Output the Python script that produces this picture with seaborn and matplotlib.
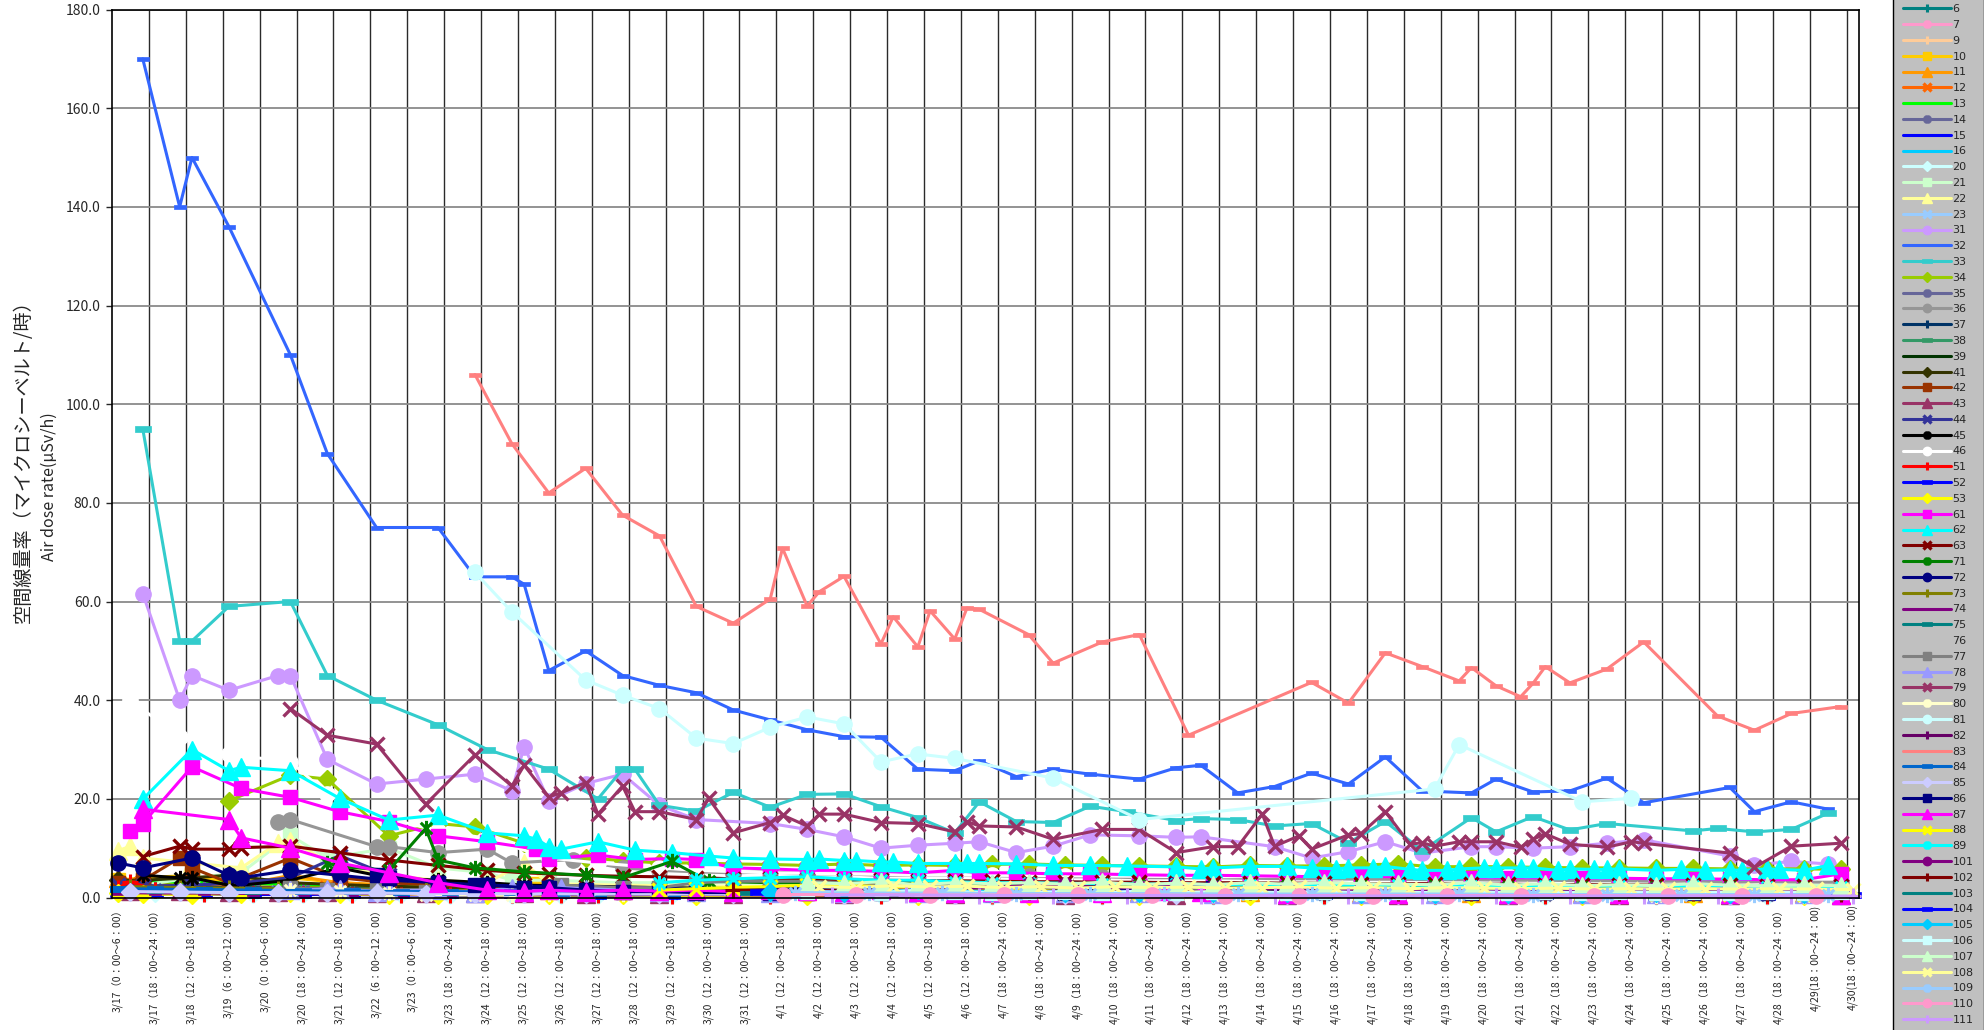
import numpy as np
import matplotlib
matplotlib.use("Agg")
import matplotlib.pyplot as plt
import seaborn as sns
from matplotlib.path import Path
from matplotlib.lines import Line2D

sns.set_theme(style="white")
plt.rcParams['font.family'] = ['Noto Sans CJK JP', 'DejaVu Sans']

# ---------------- data ----------------
n_categories = 142
tick_labels = [
    "3/17（0：00～6：00）", "3/17（18：00～24：00）", "3/18（12：00～18：00）", "3/19（6：00～12：00）",
    "3/20（0：00～6：00）", "3/20（18：00～24：00）", "3/21（12：00～18：00）", "3/22（6：00～12：00）",
    "3/23（0：00～6：00）", "3/23（18：00～24：00）", "3/24（12：00～18：00）", "3/25（12：00～18：00）",
    "3/26（12：00～18：00）", "3/27（12：00～18：00）", "3/28（12：00～18：00）", "3/29（12：00～18：00）",
    "3/30（12：00～18：00）", "3/31（12：00～18：00）", "4/1（12：00～18：00）", "4/2（12：00～18：00）",
    "4/3（12：00～18：00）", "4/4（12：00～18：00）", "4/5（12：00～18：00）", "4/6（12：00～18：00）",
    "4/7（18：00～24：00）", "4/8（18：00～24：00）", "4/9（18：00～24：00）", "4/10（18：00～24：00）",
    "4/11（18：00～24：00）", "4/12（18：00～24：00）", "4/13（18：00～24：00）", "4/14（18：00～24：00）",
    "4/15（18：00～24：00）", "4/16（18：00～24：00）", "4/17（18：00～24：00）", "4/18（18：00～24：00）",
    "4/19（18：00～24：00）", "4/20（18：00～24：00）", "4/21（18：00～24：00）", "4/22（18：00～24：00）",
    "4/23（18：00～24：00）", "4/24（18：00～24：00）", "4/25（18：00～24：00）", "4/26（18：00～24：00）",
    "4/27（18：00～24：00）", "4/28（18：00～24：00）", "4/29(18：00～24：00)", "4/30(18：00～24：00)",
]
y_ticks = [0, 20, 40, 60, 80, 100, 120, 140, 160, 180]

# each series: list of (category index, value)
s6 = [(0,2.5),(2,2.2),(6,2.0),(10,1.8),(14,1.6),(18,1.5),(22,1.3),(26,1.2),(30,1.1),(35,1.0),(41,0.9),(47,0.8),(56,0.7),(65,0.7),(74,0.6),(83,0.6),(92,0.5),(101,0.5),(110,0.5),(119,0.5),(128,0.4),(137,0.4)]
s7 = [(1,1.5),(5,1.4),(9,1.3),(13,1.2),(17,1.2),(21,1.1),(25,1.0),(29,1.0),(33,0.9),(38,0.9),(44,0.8),(50,0.8),(59,0.7),(68,0.7),(77,0.7),(86,0.6),(95,0.6),(104,0.6),(113,0.6),(122,0.5),(131,0.5),(140,0.5)]
s9 = [(0,2.0),(3,1.8),(7,1.6),(11,1.5),(15,1.4),(19,1.3),(23,1.2),(27,1.1),(32,1.0),(36,1.0),(39,0.9),(45,0.9),(53,0.8),(62,0.8),(71,0.7),(80,0.7),(89,0.7),(98,0.6),(107,0.6),(116,0.6),(125,0.6),(134,0.5)]
s10 = [(0,3.5),(2,4.0),(6,4.5),(9,3.0),(14,4.0),(18,3.0),(22,2.5),(26,2.2),(30,2.0),(34,2.8),(38,2.0),(44,1.8),(50,1.7),(56,1.6),(65,1.5),(74,1.4),(83,1.3),(92,1.2),(101,1.2),(110,1.1),(119,1.0),(128,1.0),(137,0.9)]
s11 = [(0,4.0),(2,3.0),(6,2.5),(10,2.5),(14,4.5),(18,3.0),(22,2.5),(26,2.0),(30,1.8),(35,1.6),(41,1.5),(47,1.4),(56,1.3),(65,1.2),(74,1.2),(83,1.1),(92,1.1),(101,1.0),(110,1.0),(119,0.9),(128,0.9),(137,0.9)]
s12 = [(1,3.0),(5,2.5),(9,2.0),(13,2.2),(17,2.0),(21,1.8),(25,1.6),(29,1.5),(33,1.4),(38,1.3),(44,1.2),(50,1.1),(59,1.0),(68,1.0),(77,0.9),(86,0.9),(95,0.8),(104,0.8),(113,0.8),(122,0.7),(131,0.7),(140,0.7)]
s13 = [(0,3.5),(3,3.2),(7,3.0),(11,2.8),(15,2.6),(19,2.4),(23,2.2),(27,2.0),(32,1.9),(36,1.8),(39,1.7),(45,1.6),(53,1.5),(62,1.4),(71,1.3),(80,1.3),(89,1.2),(98,1.2),(107,1.1),(116,1.1),(125,1.0),(134,1.0)]
s14 = [(1,1.8),(5,1.6),(9,1.5),(13,1.4),(17,1.3),(21,1.2),(25,1.1),(29,1.0),(33,1.0),(38,0.9),(44,0.9),(50,0.8),(59,0.8),(68,0.7),(77,0.7),(86,0.7),(95,0.6),(104,0.6),(113,0.6),(122,0.6),(131,0.5),(140,0.5)]
s15 = [(0,1.2),(3,1.1),(7,1.0),(11,1.0),(15,0.9),(19,0.9),(23,0.8),(27,0.8),(32,0.7),(36,0.7),(39,0.7),(45,0.6),(53,0.6),(62,0.6),(71,0.5),(80,0.5),(89,0.5),(98,0.5),(107,0.4),(116,0.4),(125,0.4),(134,0.4)]
s16 = [(1,2.2),(5,2.0),(9,1.8),(13,1.7),(17,1.6),(21,1.5),(25,1.4),(29,1.3),(33,1.2),(38,1.1),(44,1.0),(50,1.0),(59,0.9),(68,0.9),(77,0.8),(86,0.8),(95,0.8),(104,0.7),(113,0.7),(122,0.7),(131,0.7),(140,0.6)]
s20 = [(0,1.0),(3,0.9),(7,0.9),(11,0.8),(15,0.8),(19,0.7),(23,0.7),(27,0.6),(32,0.6),(36,0.6),(39,0.5),(45,0.5),(53,0.5),(62,0.5),(71,0.4),(80,0.4),(89,0.4),(98,0.4),(107,0.4),(116,0.3),(125,0.3),(134,0.3)]
s21 = [(0,2.0),(2,2.5),(6,4.0),(10,5.0),(14,12.6),(17,8.0),(22,10.0),(26,6.0),(30,5.0),(32,3.5),(35,3.5),(41,3.0),(47,3.0),(56,2.8),(65,2.6),(74,2.5),(83,2.4),(92,2.3),(101,2.2),(110,2.1),(119,2.0),(128,2.0),(137,1.9)]
s22 = [(0,9.5),(1,10.4),(2,8.0),(6,7.0),(10,6.0),(13,11.1),(14,11.5),(18,6.0),(22,4.5),(26,3.5),(30,3.0),(33,7.0),(35,2.8),(41,2.5),(47,2.3),(56,2.2),(65,2.1),(74,2.0),(83,2.0),(92,1.9),(101,1.9),(110,1.8),(119,1.8),(128,1.7),(137,1.7)]
s23 = [(1,1.3),(5,1.2),(9,1.1),(13,1.0),(17,1.0),(21,0.9),(25,0.9),(29,0.8),(33,0.8),(38,0.7),(44,0.7),(50,0.6),(59,0.6),(68,0.6),(77,0.5),(86,0.5),(95,0.5),(104,0.5),(113,0.4),(122,0.4),(131,0.4),(140,0.4)]
s31 = [(2,61.6),(5,40),(6,45),(9,42),(13,45),(14,45),(17,28),(21,23),(25,24),(29,25),(32,21.6),(33,30.6),(35,19.6),(38,23.1),(41,25),(44,18.7),(47,15.8),(53,15),(56,13.8),(59,12.3),(62,10),(65,10.6),(68,11),(70,11.3),(73,9.1),(76,10.4),(79,12.7),(83,12.5),(86,12.2),(88,12.3),(94,10.3),(97,8),(100,9.3),(103,11.3),(106,9),(110,10.3),(112,10.3),(115,10),(118,10.3),(121,11),(124,11.7),(131,8.4),(133,6.6),(136,7.3),(139,6.8)]
s32 = [(2,170),(5,140),(6,150),(9,136),(14,110),(17,90),(21,75),(26,75),(29,65),(32,65),(33,63.5),(35,46),(38,50),(41,45),(44,43),(47,41.5),(50,38),(53,36),(56,34),(59,32.6),(62,32.5),(65,26),(68,25.7),(70,27.7),(73,24.5),(76,26),(79,25),(83,24),(86,26.3),(88,26.8),(91,21.2),(94,22.5),(97,25.2),(100,23),(103,28.5),(106,21.6),(110,21.2),(112,24),(115,21.4),(118,21.6),(121,24.2),(124,19.2),(131,22.3),(133,17.4),(136,19.4),(139,17.9)]
s33 = [(2,95),(5,52),(6,52),(9,59),(14,60),(17,45),(21,40),(26,35),(30,30),(35,26),(39,20),(41,26),(42,26),(44,18.7),(47,17.5),(50,21.3),(53,18.3),(56,20.9),(59,21),(62,18.4),(65,16.2),(68,13.1),(70,19.4),(73,15.4),(76,15.2),(79,18.5),(82,17.4),(86,15.6),(88,16),(91,15.8),(94,14.5),(97,15),(100,11.1),(103,15.4),(106,9.5),(110,16.2),(112,13.3),(115,16.4),(118,13.7),(121,15),(128,13.5),(130,14),(133,13.3),(136,13.8),(139,17.1)]
s34 = [(9,19.6),(14,24.8),(17,24),(22,12.5),(26,15),(29,14.3),(33,11),(35,9),(38,8),(41,7.5),(44,7),(47,7),(50,6.8),(53,6.7),(56,6.5),(59,6.8),(62,6.5),(65,6.6),(68,6.5),(71,6.7),(74,6.8),(77,6.6),(80,6.5),(83,6.4),(86,6.3),(89,6.2),(92,6.5),(95,6.4),(98,6.4),(101,6.6),(104,6.8),(107,6.2),(110,6.3),(113,6.2),(116,6.1),(119,6.0),(122,6.0),(125,5.9),(128,5.9),(131,5.8),(134,5.8),(137,5.8),(140,5.7)]
s35 = [(0,2.0),(3,1.8),(7,1.7),(11,1.6),(15,1.5),(19,1.4),(23,1.3),(27,1.2),(32,1.1),(36,1.0),(39,1.0),(45,0.9),(53,0.9),(62,0.8),(71,0.8),(80,0.7),(89,0.7),(98,0.7),(107,0.6),(116,0.6),(125,0.6),(134,0.6)]
s36 = [(13,15.4),(14,15.8),(21,10.3),(22,10.3),(26,9.1),(30,9.8),(32,7),(37,7.7),(41,6),(44,5.5),(47,5.2),(50,5),(53,5.2),(56,4.8),(59,4.8),(62,4.5),(65,4.6),(68,4.5),(71,4.4),(74,4.3),(77,4.2),(80,4.2),(83,4),(86,4),(89,4),(92,3.9),(95,3.8),(98,3.8),(101,3.7),(104,3.7),(107,3.6),(110,3.6),(113,3.5),(116,3.5),(119,3.4),(122,3.4),(125,3.3),(128,3.3),(131,3.2),(134,3.2),(137,3.1),(140,3.1)]
s37 = [(1,2.4),(5,2.2),(9,2.0),(13,1.9),(17,1.8),(21,1.7),(25,1.6),(29,1.5),(33,1.4),(38,1.3),(44,1.2),(50,1.2),(59,1.1),(68,1.0),(77,1.0),(86,0.9),(95,0.9),(104,0.9),(113,0.8),(122,0.8),(131,0.8),(140,0.8)]
s38 = [(0,1.6),(3,1.5),(7,1.4),(11,1.3),(15,1.3),(19,1.2),(23,1.1),(27,1.1),(32,1.0),(36,1.0),(39,0.9),(45,0.9),(53,0.8),(62,0.8),(71,0.8),(80,0.7),(89,0.7),(98,0.7),(107,0.6),(116,0.6),(125,0.6),(134,0.6)]
s39 = [(1,1.1),(5,1.0),(9,1.0),(13,0.9),(17,0.9),(21,0.8),(25,0.8),(29,0.7),(33,0.7),(38,0.7),(44,0.6),(50,0.6),(59,0.6),(68,0.5),(77,0.5),(86,0.5),(95,0.5),(104,0.4),(113,0.4),(122,0.4),(131,0.4),(140,0.4)]
s41 = [(0,3.5),(2,3.5),(6,4.0),(9,4.5),(14,3.0),(18,2.6),(22,2.3),(26,2.0),(30,1.8),(35,1.7),(41,1.6),(47,1.5),(56,1.4),(65,1.3),(74,1.2),(83,1.2),(92,1.1),(101,1.1),(110,1.0),(119,1.0),(128,1.0),(137,0.9)]
s42 = [(0,3.0),(2,3.5),(5,8.0),(6,6.0),(9,3.0),(14,8.0),(18,4.0),(22,3.0),(26,2.5),(30,2.2),(35,2.0),(41,1.8),(47,1.7),(56,1.6),(65,1.5),(74,1.4),(83,1.3),(92,1.3),(101,1.2),(110,1.1),(119,1.1),(128,1.0),(137,1.0)]
s43 = [(1,1.4),(5,1.3),(9,1.2),(13,1.1),(17,1.1),(21,1.0),(25,1.0),(29,0.9),(33,0.9),(38,0.8),(44,0.8),(50,0.7),(59,0.7),(68,0.7),(77,0.6),(86,0.6),(95,0.6),(104,0.5),(113,0.5),(122,0.5),(131,0.5),(140,0.5)]
s44 = [(0,2.5),(2,2.3),(6,2.5),(10,3.0),(14,4.0),(18,8.5),(22,4.5),(26,3.0),(30,2.5),(35,2.2),(41,2.0),(47,1.8),(56,1.7),(65,1.6),(74,1.5),(83,1.4),(92,1.3),(101,1.3),(110,1.2),(119,1.2),(128,1.1),(137,1.1)]
s45 = [(2,4.5),(5,4.0),(6,4.0),(9,2.5),(10,2.5),(14,3.5),(18,6.0),(22,4.0),(26,3.5),(30,3.0),(33,2.5),(38,2.3),(44,2.0),(50,1.8),(56,1.7),(62,1.6),(68,1.5),(74,1.4),(80,1.4),(86,1.3),(92,1.3),(98,1.2),(104,1.2),(110,1.1),(116,1.1),(122,1.0),(128,1.0),(134,1.0),(140,0.9)]
s46 = [(1,40.0),(5,32.5),(9,29.0),(14,27.5),(17,21.0),(22,16.0),(26,13.5),(30,12.0),(35,8.0),(39,7.0),(44,6.0),(47,5.5),(53,5.0),(59,4.8),(65,4.6),(71,4.5),(77,4.4),(83,4.3),(89,4.2),(95,4.3),(101,4.4),(107,4.2),(113,4.3),(119,4.2),(125,4.0),(131,4.4),(137,4.2)]
s51 = [(0,2.0),(1,3.2),(3,1.5),(7,0.8),(11,0.7),(15,0.7),(19,0.6),(23,0.6),(27,0.6),(32,0.5),(36,0.5),(39,0.5),(45,0.4),(53,0.4),(62,0.4),(71,0.4),(80,0.3),(89,0.3),(98,0.3),(107,0.3),(116,0.3),(125,0.3),(134,0.3)]
s52 = [(0,0.8),(3,0.7),(7,0.7),(11,0.6),(15,0.6),(19,0.6),(23,0.5),(27,0.5),(32,0.5),(36,0.5),(39,0.4),(45,0.4),(53,0.4),(62,0.4),(71,0.3),(80,0.3),(89,0.3),(98,0.3),(107,0.3),(116,0.3),(125,0.2),(134,0.2)]
s53 = [(0,1.0),(2,0.7),(6,0.6),(10,0.8),(14,0.9),(18,0.7),(22,0.6),(26,0.6),(30,0.5),(35,0.5),(41,0.5),(47,0.4),(56,0.4),(65,0.4),(74,0.4),(83,0.3),(92,0.3),(101,0.3),(110,0.3),(119,0.3),(128,0.3),(137,0.3)]
s61 = [(1,13.5),(2,15),(6,26.5),(10,22.1),(14,20.3),(18,17.4),(22,15.4),(26,12.5),(30,11.3),(34,9.8),(35,7.9),(39,8.6),(42,7.7),(45,7.9),(47,7.7),(50,6),(53,5.8),(56,5.5),(59,5.5),(62,5.3),(65,5),(68,5.5),(70,5),(73,5),(76,4.8),(79,4.8),(83,4.6),(86,4.5),(89,4.5),(92,4.4),(95,4.3),(98,4.2),(101,4.3),(104,4.2),(107,4.1),(110,4),(113,4),(116,4),(119,3.9),(122,3.9),(125,3.8),(128,3.8),(131,3.7),(134,3.6),(137,3.6),(140,4.8)]
s62 = [(2,19.9),(6,30),(9,25.7),(10,26.4),(14,25.7),(18,20.1),(22,15.7),(26,16.7),(30,13.1),(33,12.5),(34,11.8),(35,10.3),(36,9.8),(39,11.3),(42,9.6),(45,9.1),(48,8.4),(50,8),(53,7.8),(56,7.7),(57,7.8),(59,7.5),(60,7.5),(62,7.2),(63,7.2),(65,6.9),(68,6.9),(69,6.9),(70,6.9),(73,6.8),(76,6.5),(79,6.5),(82,6.4),(86,6.2),(88,5.8),(89,6),(92,6.3),(95,6.3),(97,6),(99,5.8),(100,6),(102,6),(103,6.3),(105,5.7),(106,5.5),(108,5.5),(109,5.8),(111,6),(112,6),(114,6),(115,6),(117,5.5),(118,5.8),(120,5.7),(121,5.7),(122,5.8),(125,5.5),(127,5.7),(129,5.5),(131,5.6),(132,5.5),(134,5.8),(135,5.7),(137,5.5),(139,6.5)]
s63 = [(2,8.3),(5,10.4),(6,9.8),(9,9.8),(10,10.1),(14,10.4),(18,9.1),(22,7.6),(26,6.5),(30,5.5),(33,5),(35,4.8),(38,4.5),(41,4.3),(44,4.2),(47,4),(50,3.8),(53,3.7),(56,3.6),(59,3.5),(62,3.5),(65,3.4),(68,3.4),(71,3.3),(74,3.2),(77,3.2),(80,3.1),(83,3.1),(86,3),(89,3),(92,3),(95,2.9),(98,2.9),(101,2.8),(104,2.8),(107,2.8),(110,2.7),(113,2.7),(116,2.6),(119,2.6),(122,2.6),(125,2.5),(128,2.5),(131,2.5),(134,2.4),(137,2.4),(140,2.4)]
s71 = [(17,7),(18,6.3),(22,5.5),(25,14),(26,7.6),(29,6),(33,5.2),(38,4.5),(41,4),(45,7.3),(48,3.3),(53,3),(59,3),(65,2.8),(71,2.7),(77,2.6),(83,2.5),(89,2.4),(95,2.4),(101,2.3),(107,2.3),(113,2.2),(119,2.2),(125,2.1),(131,2.1),(137,2)]
s72 = [(0,7),(2,6),(6,8),(9,4.5),(10,4),(14,5.5),(18,4.5),(22,3.5),(26,3),(30,2.5),(35,2.2),(41,2),(47,1.8),(53,1.7),(59,1.6),(65,1.5),(71,1.5),(77,1.4),(83,1.4),(89,1.3),(95,1.3),(101,1.2),(107,1.2),(113,1.2),(119,1.1),(125,1.1),(131,1.1),(137,1)]
s73 = [(1,2.2),(5,2.0),(9,1.9),(13,1.8),(17,1.7),(21,1.6),(25,1.5),(29,1.4),(33,1.3),(38,1.2),(44,1.2),(50,1.1),(59,1.0),(68,1.0),(77,0.9),(86,0.9),(95,0.9),(104,0.8),(113,0.8),(122,0.8),(131,0.7),(140,0.7)]
s74 = [(0,1.0),(3,0.9),(7,0.9),(11,0.8),(15,0.8),(19,0.8),(23,0.7),(27,0.7),(32,0.7),(36,0.6),(39,0.6),(45,0.6),(53,0.5),(62,0.5),(71,0.5),(80,0.5),(89,0.4),(98,0.4),(107,0.4),(116,0.4),(125,0.4),(134,0.4)]
s75 = [(0,1.7),(3,1.6),(7,1.5),(11,1.4),(15,1.3),(19,1.3),(23,1.2),(27,1.1),(32,1.1),(36,1.0),(39,1.0),(45,0.9),(53,0.9),(62,0.8),(71,0.8),(80,0.8),(89,0.7),(98,0.7),(107,0.7),(116,0.7),(125,0.6),(134,0.6)]
s77 = [(14,2),(17,1.5),(21,1.5),(25,1.2),(29,1.3),(33,1.5),(36,2.5),(41,2),(44,2),(47,3),(50,3.3),(53,3.3),(56,3.3),(59,3),(65,2.5),(71,2.2),(77,2),(83,2),(89,1.8),(95,1.8),(101,1.7),(107,1.7),(113,1.6),(119,1.6),(125,1.5),(131,1.5),(137,1.5)]
s78 = [(14,1.5),(17,1.8),(18,1.8),(21,1.2),(22,1.5),(26,1.5),(29,1),(32,2),(33,1.5),(36,2),(38,1.8),(41,1.5),(44,1.2),(47,1.2),(53,1),(59,1),(65,1),(71,0.9),(77,0.9),(83,0.9),(89,0.8),(95,0.8),(101,0.8),(107,0.8),(113,0.7),(119,0.7),(125,0.7),(131,0.7),(137,0.7)]
s79 = [(14,38.3),(17,32.9),(21,31.1),(25,18.9),(29,28.9),(32,22.6),(33,26.8),(35,20.4),(36,21.2),(38,23.3),(39,16.9),(41,22.6),(42,17.4),(44,17.4),(47,15.8),(48,20.1),(50,13.1),(53,15.2),(54,16.7),(56,14.5),(57,16.9),(59,16.9),(62,15.2),(65,15),(68,13.3),(69,15.4),(70,14.5),(73,14.3),(76,11.8),(80,13.8),(83,13.8),(86,9.1),(89,10.3),(91,10.3),(93,16.9),(94,10.4),(96,12.5),(97,9.8),(100,12.7),(101,12.9),(103,17.4),(105,10.8),(106,11.1),(107,10.4),(109,11.3),(110,11.3),(112,11.3),(114,10.2),(115,11.8),(116,12.9),(118,10.8),(121,10.2),(123,11.3),(124,11),(131,9),(133,6.1),(136,10.4),(140,11)]
s80 = [(14,1.5),(18,1.3),(22,1.0),(25,0.6),(29,0.6),(32,0.5),(35,0.8),(38,1.0),(41,0.8),(44,0.8),(47,0.7),(53,0.7),(59,0.7),(65,0.6),(71,0.6),(77,0.6),(83,0.6),(89,0.5),(95,0.5),(101,0.5),(107,0.5),(113,0.5),(119,0.5),(125,0.4),(131,0.4),(137,0.4)]
s81 = [(29,65.9),(32,57.9),(38,44.1),(41,41),(44,38.3),(47,32.3),(50,31.2),(53,34.5),(56,36.6),(59,35.2),(62,27.5),(65,29.1),(68,28.2),(76,24.2),(83,15.8),(107,22),(109,31),(119,19.4),(123,20.1)]
s82 = [(1,1.3),(5,1.2),(9,1.1),(13,1.0),(17,1.0),(21,0.9),(25,0.9),(29,0.8),(33,0.8),(38,0.8),(44,0.7),(50,0.7),(59,0.6),(68,0.6),(77,0.6),(86,0.6),(95,0.5),(104,0.5),(113,0.5),(122,0.5),(131,0.5),(140,0.4)]
s83 = [(29,106),(32,92),(35,82),(38,87),(41,77.5),(44,73.3),(47,59),(50,55.6),(53,60.5),(54,70.8),(56,59.1),(57,62),(59,65.1),(62,51.4),(63,56.9),(65,50.8),(66,58.1),(68,52.4),(69,58.7),(70,58.4),(74,53.3),(76,47.5),(80,51.8),(83,53.3),(87,32.9),(97,43.6),(100,39.4),(103,49.6),(106,46.8),(109,43.9),(110,46.6),(112,42.9),(114,40.7),(115,43.4),(116,46.8),(118,43.5),(121,46.3),(124,51.8),(130,36.8),(133,33.9),(136,37.3),(140,38.7)]
s84 = [(0,1.8),(3,1.7),(7,1.6),(11,1.5),(15,1.4),(19,1.3),(23,1.2),(27,1.2),(32,1.1),(36,1.0),(39,1.0),(45,0.9),(53,0.9),(62,0.8),(71,0.8),(80,0.8),(89,0.7),(98,0.7),(107,0.7),(116,0.6),(125,0.6),(134,0.6)]
s85 = [(1,1.2),(5,1.1),(9,1.0),(13,1.0),(17,0.9),(21,0.9),(25,0.8),(29,0.8),(33,0.8),(38,0.7),(44,0.7),(50,0.7),(59,0.6),(68,0.6),(77,0.6),(86,0.5),(95,0.5),(104,0.5),(113,0.5),(122,0.5),(131,0.4),(140,0.4)]
s86 = [(21,4.5),(22,4),(26,3),(29,2.5),(30,2.5),(33,2),(35,2),(38,1.5),(41,1.2),(44,1.2),(47,1),(50,1),(53,1),(56,1),(59,0.9),(62,0.9),(65,0.9),(68,0.8),(71,0.8),(74,0.8),(77,1),(80,1),(83,1.5),(86,2.5),(89,2),(92,1.5),(95,1.3),(98,1.2),(101,1.2),(104,1),(107,1),(110,1),(113,1),(116,1.2),(119,1.0),(122,1.0),(125,1.0),(128,0.9),(131,0.9),(134,0.9),(137,0.9),(140,0.9)]
s87 = [(2,17.9),(9,15.8),(10,12.1),(14,10),(18,7),(22,5),(26,3),(30,1.5),(33,1.2),(35,1.5),(38,1.2),(41,1.5),(44,1.3),(47,1.5),(50,1.2),(53,1.5),(56,1.3),(59,1.2),(62,1.5),(65,1.2),(68,1.0),(71,1.2),(74,1.0),(80,0.9),(85,1.3),(88,1.2),(95,0.8),(104,0.8),(113,0.7),(122,0.7),(131,0.7),(140,0.6)]
s88 = [(44,1.5),(47,1.8),(50,2),(53,2.2),(56,2.5),(59,2.5),(62,2.2),(65,1.8),(68,2),(71,1.5),(74,1.5),(77,1.2),(83,1.2),(89,1.1),(95,1.0),(101,1.0),(107,1.0),(113,0.9),(119,0.9),(125,0.9),(131,0.8),(137,0.8)]
s89 = [(44,3),(47,3.5),(50,3.8),(53,4),(56,4.2),(59,3.8),(62,3.5),(65,3.5),(68,3.2),(71,3),(74,3),(80,2.8),(86,2.7),(92,2.6),(98,2.5),(104,2.5),(110,2.4),(116,2.4),(122,2.3),(128,2.3),(134,2.2),(140,2.2)]
s101 = [(62,1.5),(65,1.5),(68,1.8),(71,2),(74,2.5),(77,2.5),(80,2),(83,2),(86,2.3),(89,2),(92,1.8),(95,1.8),(98,1.5),(101,1.5),(104,1.5),(107,1.5),(110,1.3),(113,1.3),(116,1.2),(119,1.2),(122,1.5),(125,1.8),(128,1.5),(131,1.8),(134,1.5),(137,1.2),(140,1.2)]
s102 = [(50,1.5),(56,1.4),(62,1.3),(68,1.3),(74,1.2),(80,1.2),(86,1.1),(92,1.1),(98,1.0),(104,1.0),(110,1.0),(116,0.9),(122,0.9),(128,0.9),(134,0.9),(140,0.8)]
s103 = [(51,0.9),(57,0.9),(63,0.8),(69,0.8),(75,0.8),(81,0.7),(87,0.7),(93,0.7),(99,0.7),(105,0.6),(111,0.6),(117,0.6),(123,0.6),(129,0.6),(135,0.5),(141,0.5)]
s104 = [(52,1.1),(58,1.0),(64,1.0),(70,0.9),(76,0.9),(82,0.9),(88,0.8),(94,0.8),(100,0.8),(106,0.8),(112,0.7),(118,0.7),(124,0.7),(130,0.7),(136,0.7),(141,0.6)]
s105 = [(53,1.2),(59,1.0),(65,1.5),(71,1.2),(77,1.0),(83,1.0),(89,0.9),(95,0.9),(101,0.8),(107,0.8),(113,0.8),(119,0.7),(125,0.9),(131,0.8),(137,0.7)]
s106 = [(56,1.2),(62,1.0),(65,1.5),(68,1.2),(71,1.0),(74,1.1),(77,1.2),(80,1.0),(83,1.3),(86,1.0),(89,1.2),(92,1.1),(95,1.0),(98,1.2),(101,1.0),(104,1.1),(107,1.0),(110,1.2),(113,1.0),(116,1.1),(119,1.0),(122,1.2),(125,1.0),(128,1.1),(131,1.0),(134,1.2),(137,1.0),(140,1.1)]
s107 = [(56,3.0),(59,2.8),(62,3.2),(65,2.6),(68,3.0),(71,2.8),(74,3.0),(77,2.7),(80,3.1),(83,2.6),(86,2.9),(89,2.6),(92,3.0),(95,2.7),(98,3.0),(101,2.8),(104,2.7),(107,2.6),(110,3.0),(113,2.5),(116,2.8),(119,2.4),(122,2.6),(125,2.4),(128,2.8),(131,2.5),(134,2.4),(137,2.5),(140,2.4)]
s108 = [(57,2.2),(60,2.0),(63,2.4),(66,2.1),(69,2.3),(72,2.0),(75,2.2),(78,1.9),(81,2.2),(84,2.0),(87,2.1),(90,1.9),(93,2.0),(96,2.1),(99,1.9),(102,2.0),(105,1.8),(108,2.0),(111,1.9),(114,1.8),(117,1.9),(120,1.7),(123,1.8),(126,1.7),(129,1.8),(132,1.7),(135,1.8),(138,1.7),(141,1.6)]
s109 = [(55,1.0),(61,0.9),(67,0.9),(73,0.8),(79,0.8),(85,0.8),(91,0.7),(97,0.7),(103,0.7),(109,0.7),(115,0.6),(121,0.6),(127,0.6),(133,0.6),(139,0.6)]
s110 = [(54,0.6),(60,0.6),(66,0.5),(72,0.5),(78,0.5),(84,0.5),(90,0.4),(96,0.4),(102,0.4),(108,0.4),(114,0.4),(120,0.4),(126,0.3),(132,0.3),(138,0.3)]
s111 = [(58,0.5),(64,0.5),(70,0.4),(76,0.4),(82,0.4),(88,0.4),(94,0.4),(100,0.3),(106,0.3),(112,0.3),(118,0.3),(124,0.3),(130,0.3),(136,0.3),(141,0.3)]

series_order = [
    ("6", s6), ("7", s7), ("9", s9), ("10", s10), ("11", s11), ("12", s12), ("13", s13), ("14", s14),
    ("15", s15), ("16", s16), ("20", s20), ("21", s21), ("22", s22), ("23", s23), ("31", s31), ("32", s32),
    ("33", s33), ("34", s34), ("35", s35), ("36", s36), ("37", s37), ("38", s38), ("39", s39), ("41", s41),
    ("42", s42), ("43", s43), ("44", s44), ("45", s45), ("46", s46), ("51", s51), ("52", s52), ("53", s53),
    ("61", s61), ("62", s62), ("63", s63), ("71", s71), ("72", s72), ("73", s73), ("74", s74), ("75", s75),
    ("76", None), ("77", s77), ("78", s78), ("79", s79), ("80", s80), ("81", s81), ("82", s82), ("83", s83),
    ("84", s84), ("85", s85), ("86", s86), ("87", s87), ("88", s88), ("89", s89), ("101", s101), ("102", s102),
    ("103", s103), ("104", s104), ("105", s105), ("106", s106), ("107", s107), ("108", s108), ("109", s109),
    ("110", s110), ("111", s111),
]

# ---------------- styles ----------------
styles = {
    "6": ("#008080", "plus"), "7": ("#FF99CC", "star"), "9": ("#FFCC99", "plus"), "10": ("#FFCC00", "square"),
    "11": ("#FF9900", "tri"), "12": ("#FF6600", "x"), "13": ("#00FF00", "dash"), "14": ("#666699", "star"),
    "15": ("#0000FF", "dash"), "16": ("#00CCFF", "dash"), "20": ("#CCFFFF", "diamond"), "21": ("#CCFFCC", "square"),
    "22": ("#FFFF99", "tri"), "23": ("#99CCFF", "x"), "31": ("#CC99FF", "circle"), "32": ("#3366FF", "dash"),
    "33": ("#33CCCC", "dashw"), "34": ("#99CC00", "diamond"), "35": ("#666699", "star"), "36": ("#969696", "circle"),
    "37": ("#003366", "plus"), "38": ("#339966", "dashw"), "39": ("#003300", "dash"), "41": ("#333300", "diamond"),
    "42": ("#993300", "square"), "43": ("#993366", "tri"), "44": ("#333399", "x"), "45": ("#000000", "star"),
    "46": ("#FFFFFF", "circle"), "51": ("#FF0000", "plus"), "52": ("#0000FF", "dashw"), "53": ("#FFFF00", "diamond"),
    "61": ("#FF00FF", "square"), "62": ("#00FFFF", "tri"), "63": ("#800000", "x"), "71": ("#008000", "star"),
    "72": ("#000080", "circle"), "73": ("#808000", "plus"), "74": ("#800080", "dash"), "75": ("#008080", "dashw"),
    "77": ("#808080", "square"), "78": ("#9999FF", "tri"), "79": ("#993366", "x"),
    "80": ("#FFFFCC", "star"), "81": ("#CCFFFF", "circle"), "82": ("#660066", "plus"), "83": ("#FF8080", "dash"),
    "84": ("#0066CC", "dashw"), "85": ("#CCCCFF", "diamond"), "86": ("#000080", "square"), "87": ("#FF00FF", "tri"),
    "88": ("#FFFF00", "x"), "89": ("#00FFFF", "star"), "101": ("#800080", "circle"), "102": ("#800000", "plus"),
    "103": ("#008080", "dash"), "104": ("#0000FF", "dashw"), "105": ("#00CCFF", "diamond"), "106": ("#CCFFFF", "square"),
    "107": ("#CCFFCC", "tri"), "108": ("#FFFF99", "x"), "109": ("#99CCFF", "star"), "110": ("#FF99CC", "circle"),
    "111": ("#CC99FF", "plus"),
}
dash_path = Path([(-1, -0.38), (1, -0.38), (1, 0.38), (-1, 0.38), (-1, -0.38)],
                 [Path.MOVETO, Path.LINETO, Path.LINETO, Path.LINETO, Path.CLOSEPOLY])
star_path = Path([(-0.75, -0.75), (0.75, 0.75), (-0.75, 0.75), (0.75, -0.75), (0, -1), (0, 1)],
                 [Path.MOVETO, Path.LINETO, Path.MOVETO, Path.LINETO, Path.MOVETO, Path.LINETO])
marker_spec = {
    "plus": ("+", 11, 2.2), "star": (star_path, 11, 2.2), "square": ("s", 10.5, 1.0),
    "tri": ("^", 12.5, 1.0), "x": ("x", 10.5, 2.4), "dash": (dash_path, 9, 0.5),
    "dashw": (dash_path, 12, 0.5), "diamond": ("D", 9.5, 1.0), "circle": ("o", 11, 1.0),
}

# ---------------- figure ----------------
W, H = 1984, 1030
fig = plt.figure(figsize=(W / 100, H / 100), dpi=100)
fig.patch.set_facecolor("white")
ax = fig.add_axes([112 / W, 1 - 897.5 / H, 1747 / W, 888 / H])
ax.set_facecolor("white")

handles, labels = [], []
for name, pts in series_order:
    if pts is None:
        handles.append(Line2D([], [], linestyle="none"))
        labels.append(name)
        continue
    color, kind = styles[name]
    m, ms, mew = marker_spec[kind]
    xs = [p[0] for p in pts]
    ys = [p[1] for p in pts]
    sns.lineplot(x=xs, y=ys, ax=ax, color=color, marker=m, markersize=ms,
                 markeredgecolor=color, markerfacecolor=color, markeredgewidth=mew,
                 linewidth=2.2, estimator=None, sort=False, legend=False,
                 clip_on=False, label=name)
    handles.append(ax.lines[-1])
    labels.append(name)

ax.set_xlim(-0.5, n_categories - 0.5)
ax.set_ylim(0, 180)
ax.set_xlabel("")
ax.set_ylabel("")
ax.set_yticks(y_ticks)
ax.set_yticklabels([f"{v:.1f}" for v in y_ticks], fontsize=10)
ax.set_xticks(list(range(0, n_categories, 3)))
ax.set_xticklabels(tick_labels, rotation=90, fontsize=7.5, va="top", ha="center")
ax.set_xticks([3 * k - 0.5 for k in range(1, len(tick_labels))], minor=True)
ax.tick_params(axis="x", which="both", length=0, pad=5)
ax.tick_params(axis="y", which="major", length=4, width=1, pad=4, direction="out", left=True)
ax.grid(False)
ax.grid(True, which="minor", axis="x", color="#2a2a2a", linewidth=1.0, zorder=0)
ax.grid(True, which="major", axis="y", color="#8a8a8a", linewidth=1.3, zorder=0)
ax.set_axisbelow(True)
for sp in ax.spines.values():
    sp.set_color("black")
    sp.set_linewidth(1.2)
    sp.set_visible(True)

fig.text(23 / W, 1 - 457 / H, "空間線量率（マイクロシーベルト/時）", rotation=90,
         ha="center", va="center", fontsize=13.8)
fig.text(49 / W, 1 - 487 / H, "Air dose rate(μSv/h)", rotation=90,
         ha="center", va="center", fontsize=11.5)

# legend: fit 65 rows into the full figure height
LEG_FS = 8
first_center, last_center = 9.3, 1020.0   # pixel rows from the top


def make_legend(ls, top):
    lg = fig.legend(handles, labels, loc="upper left", bbox_to_anchor=(1893 / W, top),
                    bbox_transform=fig.transFigure, frameon=True, fancybox=False, framealpha=1,
                    facecolor="#C0C0C0", edgecolor="black",
                    prop={"family": "DejaVu Sans", "size": LEG_FS},
                    handlelength=4.3, handletextpad=0.15, labelspacing=ls,
                    borderpad=0.9, markerscale=0.55, borderaxespad=0)
    lg.get_frame().set_linewidth(1.0)
    return lg


def text_centers(lg):
    fig.canvas.draw()
    r = fig.canvas.get_renderer()
    ts = lg.get_texts()
    e0 = ts[0].get_window_extent(r)
    e1 = ts[-1].get_window_extent(r)
    return H - (e0.y0 + e0.y1) / 2, H - (e1.y0 + e1.y1) / 2


ls, top = 0.5, 1.0
leg = make_legend(ls, top)
for _ in range(3):
    c0, c1 = text_centers(leg)
    pitch = (c1 - c0) / (len(labels) - 1)
    target = (last_center - first_center) / (len(labels) - 1)
    ls = ls + (target - pitch) / (LEG_FS * 100 / 72)
    leg.remove()
    leg = make_legend(ls, top)
    c0, c1 = text_centers(leg)
    top = top + (c0 - first_center) / H
    leg.remove()
    leg = make_legend(ls, top)

fig.savefig("out.png", dpi=100, facecolor="white")
